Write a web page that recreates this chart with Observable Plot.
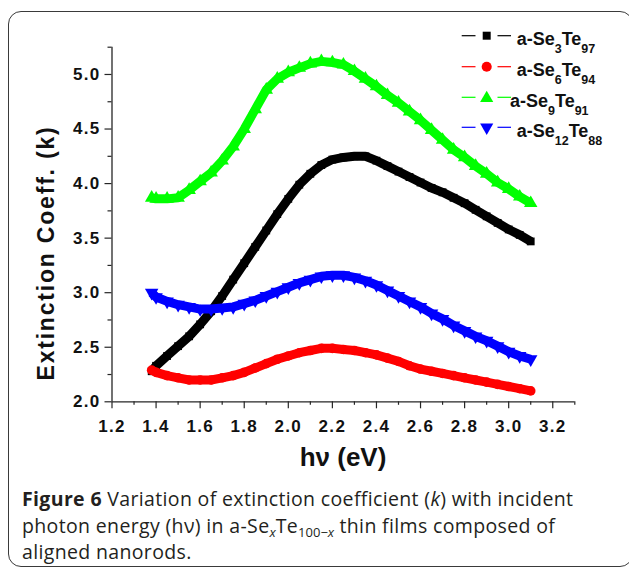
<!DOCTYPE html>
<html><head><meta charset="utf-8">
<script src="https://cdn.jsdelivr.net/npm/d3@7"></script>
<script src="https://cdn.jsdelivr.net/npm/@observablehq/plot@0.6"></script>
<style>
html,body{margin:0;padding:0;background:#fff}
body{width:629px;height:567px;overflow:hidden;position:relative}
#box{position:absolute;left:8px;top:11px;width:625px;height:556px;border:1.5px solid #3a3a3a;border-radius:13px;box-sizing:border-box}
#chart{position:absolute;left:0;top:0}
#chart svg{overflow:visible}
[aria-label="x-axis tick label"] text,[aria-label="y-axis tick label"] text{letter-spacing:1.3px}
#cap{position:absolute;left:22px;top:486px;font-family:"Open Sans","Noto Sans",sans-serif;font-size:19.5px;letter-spacing:0.35px;line-height:26.5px;color:#231f20;white-space:nowrap}
#cap sub{font-size:13px;line-height:0;vertical-align:-4px;letter-spacing:0}
</style>
</head><body>
<div id="box"></div>
<div id="chart"></div>
<div id="cap"><b>Figure 6</b> Variation of extinction coefficient (<i>k</i>) with incident<br>photon energy (hν) in a-Se<sub><i>x</i></sub>Te<sub>100−<i>x</i></sub> thin films composed of<br>aligned nanorods.</div>
<script>
// ---- data ----
const hv = [1.38,1.40,1.45,1.50,1.55,1.60,1.65,1.70,1.75,1.80,1.85,1.90,1.95,2.00,2.05,2.10,2.15,2.20,2.25,2.30,2.35,2.40,2.45,2.50,2.55,2.60,2.65,2.70,2.75,2.80,2.85,2.90,2.95,3.00,3.05,3.10];
const kSe3Te97 = [2.28,2.33,2.42,2.51,2.60,2.71,2.83,2.97,3.12,3.27,3.42,3.57,3.72,3.86,3.99,4.09,4.17,4.22,4.24,4.25,4.25,4.21,4.16,4.11,4.06,4.01,3.96,3.92,3.87,3.82,3.76,3.70,3.64,3.58,3.53,3.47];
const kSe6Te94 = [2.29,2.27,2.24,2.22,2.20,2.20,2.20,2.22,2.24,2.27,2.31,2.35,2.39,2.42,2.45,2.47,2.49,2.49,2.48,2.47,2.45,2.43,2.40,2.37,2.33,2.30,2.28,2.26,2.24,2.22,2.20,2.18,2.16,2.14,2.12,2.10];
const kSe9Te91 = [3.87,3.86,3.86,3.87,3.94,4.02,4.10,4.21,4.34,4.50,4.68,4.86,4.96,5.02,5.06,5.10,5.12,5.11,5.09,5.03,4.96,4.89,4.81,4.74,4.66,4.58,4.49,4.40,4.31,4.24,4.16,4.09,4.01,3.95,3.88,3.82];
const kSe12Te88 = [3.00,2.96,2.92,2.89,2.87,2.85,2.85,2.86,2.87,2.90,2.93,2.97,3.01,3.05,3.09,3.12,3.15,3.16,3.16,3.14,3.11,3.07,3.02,2.97,2.92,2.87,2.81,2.76,2.70,2.65,2.60,2.56,2.51,2.46,2.42,2.39];
const seriesNames = [["a-Se","3","Te","97"],["a-Se","6","Te","94"],["a-Se","9","Te","91"],["a-Se","12","Te","88"]];
const seriesColors = ["#000000","#ff0000","#00ff00","#0000ff"];
const xTicks = [1.2,1.4,1.6,1.8,2.0,2.2,2.4,2.6,2.8,3.0,3.2];
const xMinorTicks = [1.3,1.5,1.7,1.9,2.1,2.3,2.5,2.7,2.9,3.1,3.3];
const yTicks = [2.0,2.5,3.0,3.5,4.0,4.5,5.0];
const yMinorTicks = [2.25,2.75,3.25,3.75,4.25,4.75,5.25];
const xLabel = "hν (eV)";
const yLabel = "Extinction Coeff. (k)";

const triangleDown = {
  draw(context, size) {
    const s3 = Math.sqrt(3);
    const y = -Math.sqrt(size / (s3 * 3));
    context.moveTo(0, -y * 2);
    context.lineTo(-s3 * y, y);
    context.lineTo(s3 * y, y);
    context.closePath();
  }
};
const symbols = ["square","circle","triangle",triangleDown];
const radii = [4.4,4.8,5.0,5.0];
const allK = [kSe3Te97,kSe6Te94,kSe9Te91,kSe12Te88];
const rows = allK.map(ks => hv.map((h,i) => ({hv:h, k:ks[i]})));

const axisColor = "#262626";
const seriesMarks = rows.flatMap((data, s) => [
  Plot.line(data, {x:"hv", y:"k", stroke: seriesColors[s], strokeWidth: 9, strokeLinejoin:"round", strokeLinecap:"butt"}),
  Plot.dot(data, {x:"hv", y:"k", symbol: () => symbols[s], fill: seriesColors[s], r: radii[s], stroke: "none"})
]);

const chart = Plot.plot({
  width: 629, height: 475,
  marginLeft: 111.5, marginRight: 54.7, marginTop: 46.7, marginBottom: 73.7,
  x: {domain: [1.2, 3.3]},
  y: {domain: [2.0, 5.25]},
  symbol: {type: "identity"},
  style: {fontFamily: '"Liberation Sans", Arial, sans-serif', fontWeight: "bold", fontSize: "17px", color: "#111", background: "transparent"},
  marks: [
    Plot.axisX({ticks: xTicks, tickSize: 7, tickPadding: 11, tickFormat: d3.format(".1f"), label: null, stroke: axisColor, strokeWidth: 1.2}),
    Plot.axisX({ticks: xMinorTicks, tickSize: 3.5, tickFormat: () => "", label: null, stroke: axisColor, strokeWidth: 1.2}),
    Plot.axisY({ticks: yTicks, tickSize: 7, tickPadding: 4.5, tickFormat: d3.format(".1f"), label: null, stroke: axisColor, strokeWidth: 1.2}),
    Plot.axisY({ticks: yMinorTicks, tickSize: 4, tickFormat: () => "", label: null, stroke: axisColor, strokeWidth: 1.2}),
    Plot.ruleX([1.2], {y1: 2.0, y2: 5.25, stroke: axisColor, strokeWidth: 1.3}),
    Plot.ruleY([2.0], {x1: 1.2, x2: 3.3, stroke: axisColor, strokeWidth: 1.3}),
    ...seriesMarks
  ]
});
document.getElementById("chart").appendChild(chart);

const svg = d3.select(chart);
// axis titles
svg.append("text")
  .attr("transform", "translate(53.5,253) rotate(-90)")
  .attr("text-anchor", "middle")
  .attr("font-size", 23).attr("font-weight", "bold").attr("letter-spacing", "1.8px")
  .attr("fill", "#111")
  .text(yLabel);
svg.append("text")
  .attr("x", 343).attr("y", 466)
  .attr("text-anchor", "middle")
  .attr("font-size", 26).attr("font-weight", "bold")
  .attr("fill", "#111")
  .text(xLabel);

// legend
const lg = svg.append("g").attr("class", "legend");
const rowY = [35.7, 66.7, 97.3, 127.3];
const textX = [516.7, 516.7, 510, 516.7];
seriesNames.forEach((parts, i) => {
  const y = rowY[i];
  lg.append("line").attr("x1", 461.7).attr("x2", 475.5).attr("y1", y).attr("y2", y).attr("stroke", seriesColors[i]).attr("stroke-width", 1.2);
  lg.append("line").attr("x1", 497.5).attr("x2", 511).attr("y1", y).attr("y2", y).attr("stroke", seriesColors[i]).attr("stroke-width", 1.2);
  const sizes = [64, 80, 75, 75];
  const sym = [d3.symbolSquare, d3.symbolCircle, d3.symbolTriangle, triangleDown][i];
  lg.append("path").attr("d", d3.symbol(sym, sizes[i])()).attr("transform", `translate(486.7,${y + (i===2?1:0)})`).attr("fill", seriesColors[i]);
  const t = lg.append("text").attr("x", textX[i]).attr("y", y + 9.3).attr("text-anchor", "start").attr("font-size", 18).attr("font-weight", "bold").attr("fill", "#111");
  t.append("tspan").text(parts[0]);
  t.append("tspan").attr("font-size", 12.5).attr("dy", 8).text(parts[1]);
  t.append("tspan").attr("dy", -8).text(parts[2]);
  t.append("tspan").attr("font-size", 12.5).attr("dy", 8).text(parts[3]);
});
</script>
</body></html>
